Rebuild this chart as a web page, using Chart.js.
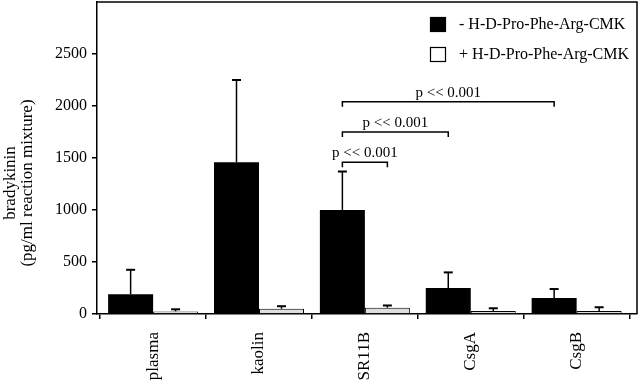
<!DOCTYPE html>
<html><head><meta charset="utf-8">
<script src="https://cdn.jsdelivr.net/npm/chart.js@4.4.1/dist/chart.umd.min.js"></script>
<style>html,body{margin:0;padding:0;background:#fff}#w{width:640px;height:383px;position:relative}</style>
</head><body><div id="w"><canvas id="c" width="640" height="383"></canvas></div>
<script>
const categories = ['plasma', 'kaolin', 'SR11B', 'CsgA', 'CsgB'];
const seriesLabels = ['- H-D-Pro-Phe-Arg-CMK', '+ H-D-Pro-Phe-Arg-CMK'];
const minusValues = [190, 1460, 1000, 250, 155];
const minusErrors = [235, 790, 370, 150, 85];
const plusValues = [25, 50, 60, 30, 30];
const plusErrors = [20, 25, 22, 25, 35];
const yTicks = [0, 500, 1000, 1500, 2000, 2500];
const yTitle = ['bradykinin', '(pg/ml reaction mixture)'];
const bracketFromCat = [2, 2, 2];
const bracketFromSeries = [0, 0, 0];
const bracketToCat = [2, 3, 4];
const bracketToSeries = [1, 0, 0];
const bracketLevels = [1460, 1750, 2040];
const bracketLabels = ['p << 0.001', 'p << 0.001', 'p << 0.001'];

const FONT = "'Liberation Serif', 'Times New Roman', serif";
const errorSets = [minusErrors, plusErrors];
const fills = ['#000000', '#dedede'];

const extras = {
  id: 'extras',
  afterDatasetsDraw(chart) {
    const ctx = chart.ctx, y = chart.scales.y;
    ctx.save();
    ctx.strokeStyle = '#000';
    chart.data.datasets.forEach((ds, d) => {
      const meta = chart.getDatasetMeta(d);
      meta.data.forEach((bar, i) => {
        const v = ds.data[i].y, e = errorSets[d][i];
        const yTop = y.getPixelForValue(v + e);
        ctx.lineWidth = 1.5;
        ctx.beginPath(); ctx.moveTo(bar.x, bar.y); ctx.lineTo(bar.x, yTop); ctx.stroke();
        ctx.lineWidth = 2;
        ctx.beginPath(); ctx.moveTo(bar.x - 4.5, yTop); ctx.lineTo(bar.x + 4.5, yTop); ctx.stroke();
      });
    });
    ctx.restore();
  },
  afterDraw(chart) {
    const ctx = chart.ctx, a = chart.chartArea, y = chart.scales.y;
    ctx.save();
    // frame
    ctx.strokeStyle = '#000'; ctx.lineWidth = 1.5;
    ctx.beginPath();
    ctx.moveTo(a.left, a.top); ctx.lineTo(a.right, a.top); ctx.lineTo(a.right, a.bottom);
    ctx.stroke();
    // y title
    ctx.fillStyle = '#000';
    ctx.font = '17px ' + FONT;
    ctx.textAlign = 'center'; ctx.textBaseline = 'middle';
    const cy = (a.top + a.bottom) / 2 + 25;
    ctx.save(); ctx.translate(11, cy); ctx.rotate(-Math.PI / 2); ctx.fillText(yTitle[0], 0, 0); ctx.restore();
    ctx.save(); ctx.translate(28, cy); ctx.rotate(-Math.PI / 2); ctx.fillText(yTitle[1], 0, 0); ctx.restore();
    // legend
    ctx.font = '16px ' + FONT;
    ctx.textAlign = 'left'; ctx.textBaseline = 'middle';
    seriesLabels.forEach((lab, k) => {
      const bx = a.right - 207, by = a.top + 15 + k * 30;
      ctx.fillStyle = fills[k] === '#000000' ? '#000' : '#fff';
      ctx.fillRect(bx, by, 16, 15);
      ctx.lineWidth = 1.2; ctx.strokeStyle = '#000';
      ctx.strokeRect(bx + 0.5, by + 0.5, 15, 14);
      ctx.fillStyle = '#000';
      ctx.fillText(lab, bx + 29, by + 8);
    });
    // brackets
    ctx.lineWidth = 1.5; ctx.strokeStyle = '#000';
    ctx.font = '15px ' + FONT; ctx.textAlign = 'center'; ctx.textBaseline = 'alphabetic';
    bracketLevels.forEach((lv, k) => {
      const x1 = chart.getDatasetMeta(bracketFromSeries[k]).data[bracketFromCat[k]].x;
      const x2 = chart.getDatasetMeta(bracketToSeries[k]).data[bracketToCat[k]].x;
      const yy = y.getPixelForValue(lv);
      ctx.beginPath();
      ctx.moveTo(x1, yy + 5); ctx.lineTo(x1, yy); ctx.lineTo(x2, yy); ctx.lineTo(x2, yy + 5);
      ctx.stroke();
      ctx.fillText(bracketLabels[k], (x1 + x2) / 2, yy - 5, 67);
    });
    ctx.restore();
  }
};

new Chart(document.getElementById('c'), {
  type: 'bar',
  data: {
    datasets: [
      { label: seriesLabels[0], data: minusValues.map((v, i) => ({ x: i, y: v })),
        backgroundColor: fills[0], borderColor: '#000', borderWidth: 0 },
      { label: seriesLabels[1], data: plusValues.map((v, i) => ({ x: i, y: v })),
        backgroundColor: fills[1], borderColor: '#000', borderWidth: 1 }
    ]
  },
  options: {
    responsive: false, animation: false, devicePixelRatio: 1,
    layout: { padding: { top: 2, right: 3, left: 0, bottom: 0 } },
    datasets: { bar: { categoryPercentage: 0.85, barPercentage: 1.0, grouped: true } },
    plugins: { legend: { display: false }, tooltip: { enabled: false } },
    scales: {
      x: {
        type: 'linear', min: -0.53, max: 4.57, offset: false,
        afterBuildTicks: s => { s.ticks = categories.map((c, i) => ({ value: i })); },
        afterFit: s => { s.height = 69; s.paddingLeft = 0; s.paddingRight = 0; },
        grid: { drawOnChartArea: false, drawTicks: true, tickLength: 5, color: '#000', lineWidth: 1.5 },
        border: { display: true, color: '#000', width: 1.5 },
        ticks: { autoSkip: false, minRotation: 90, maxRotation: 90, padding: 13, color: '#000',
          font: { family: FONT, size: 17 }, callback: v => categories[v] }
      },
      y: {
        min: 0, max: 3000,
        afterBuildTicks: s => { s.ticks = yTicks.map(v => ({ value: v })); },
        afterFit: s => { s.width = 97; s.paddingTop = 0; s.paddingBottom = 0; },
        grid: { drawOnChartArea: false, drawTicks: true, tickLength: 5, color: '#000', lineWidth: 1.5 },
        border: { display: true, color: '#000', width: 1.5 },
        ticks: { padding: 5, color: '#000', font: { family: FONT, size: 16 }, callback: v => String(v) }
      }
    }
  },
  plugins: [extras]
});
</script>
</body></html>
